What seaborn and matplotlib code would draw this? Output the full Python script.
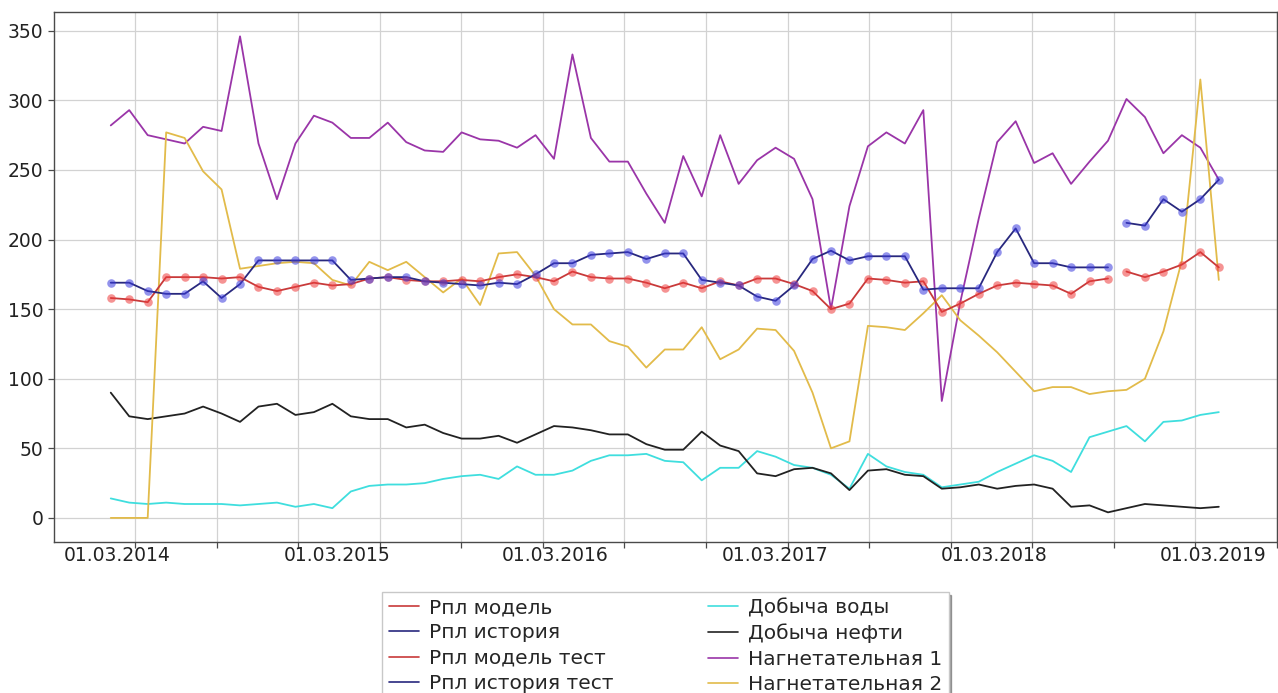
import numpy as np
import matplotlib
matplotlib.use("Agg")
import matplotlib.pyplot as plt
import seaborn as sns

# ---- data: monthly observations, month index 0..60 ----
month = list(range(61))

p_model = [158, 157, 155, 173, 173, 173, 172, 173, 166, 163, 166, 169, 167, 168, 172,
           173, 171, 170, 170, 171, 170, 173, 175, 173, 170, 177, 173, 172, 172, 169,
           165, 169, 165, 170, 167, 172, 172, 168, 163, 150, 154, 172, 171, 169, 170,
           148, 154, 161, 167, 169, 168, 167, 161, 170, 172]
p_hist = [169, 169, 163, 161, 161, 170, 158, 168, 185, 185, 185, 185, 185, 171, 172,
          173, 173, 170, 169, 168, 167, 169, 168, 175, 183, 183, 189, 190, 191, 186,
          190, 190, 171, 169, 167, 159, 156, 167, 186, 192, 185, 188, 188, 188, 164,
          165, 165, 165, 191, 208, 183, 183, 180, 180, 180]
p_model_test = [177, 173, 177, 182, 191, 180]
p_hist_test = [212, 210, 229, 220, 229, 243]

water = [14, 11, 10, 11, 10, 10, 10, 9, 10, 11, 8, 10, 7, 19, 23, 24, 24, 25, 28, 30,
         31, 28, 37, 31, 31, 34, 41, 45, 45, 46, 41, 40, 27, 36, 36, 48, 44, 38, 36, 31,
         21, 46, 37, 33, 31, 22, 24, 26, 33, 39, 45, 41, 33, 58, 62, 66, 55, 69, 70, 74, 76]
oil = [90, 73, 71, 73, 75, 80, 75, 69, 80, 82, 74, 76, 82, 73, 71, 71, 65, 67, 61, 57,
       57, 59, 54, 60, 66, 65, 63, 60, 60, 53, 49, 49, 62, 52, 48, 32, 30, 35, 36, 32,
       20, 34, 35, 31, 30, 21, 22, 24, 21, 23, 24, 21, 8, 9, 4, 7, 10, 9, 8, 7, 8]
inj1 = [282, 293, 275, 272, 269, 281, 278, 346, 269, 229, 269, 289, 284, 273, 273, 284,
        270, 264, 263, 277, 272, 271, 266, 275, 258, 333, 273, 256, 256, 233, 212, 260,
        231, 275, 240, 257, 266, 258, 229, 150, 224, 267, 277, 269, 293, 84, 155, 215,
        270, 285, 255, 262, 240, 256, 271, 301, 288, 262, 275, 266, 243]
inj2 = [0, 0, 0, 277, 273, 249, 236, 179, 181, 183, 184, 183, 171, 167, 184, 178, 184,
        173, 162, 172, 153, 190, 191, 174, 150, 139, 139, 127, 123, 108, 121, 121, 137,
        114, 121, 136, 135, 120, 90, 50, 55, 138, 137, 135, 147, 160, 142, 131, 119, 105,
        91, 94, 94, 89, 91, 92, 100, 134, 185, 315, 171]

date_labels = ["01.03.2014", "01.03.2015", "01.03.2016",
               "01.03.2017", "01.03.2018", "01.03.2019"]

# ---- layout of the date axis (in month-index units) ----
label_pos = [0.34, 12.25, 24.06, 35.97, 47.82, 59.68]
grid_start, grid_step, n_grid = 1.316, 4.4167, 15

sns.set_theme(style="whitegrid")
plt.rcParams["font.family"] = ["DejaVu Sans"]

fig = plt.figure(figsize=(12.78, 6.93), dpi=100)
ax = fig.add_axes([0.0423, 0.2179, 0.9569, 0.7648])

n_hist = len(p_model)
x_hist = month[:n_hist]
x_test = month[n_hist:]

red_line, red_dot = "#c83a3a", "#ee3b3b"
blue_line, blue_dot = "#28287e", "#3b3bdd"
lw = 1.3

def pressure(x, y, lc, dc, label):
    sns.lineplot(x=x, y=y, ax=ax, color=lc, linewidth=lw, label=label, zorder=3)
    sns.scatterplot(x=x, y=y, ax=ax, color=dc, s=38, alpha=0.55,
                    edgecolor=None, linewidth=0, legend=False, zorder=4)

pressure(x_hist, p_model, red_line, red_dot, "Рпл модель")
pressure(x_hist, p_hist, blue_line, blue_dot, "Рпл история")
pressure(x_test, p_model_test, red_line, red_dot, "Рпл модель тест")
pressure(x_test, p_hist_test, blue_line, blue_dot, "Рпл история тест")

sns.lineplot(x=month, y=water, ax=ax, color="#3fdede", linewidth=lw, label="Добыча воды", zorder=2)
sns.lineplot(x=month, y=oil, ax=ax, color="#222222", linewidth=lw, label="Добыча нефти", zorder=2)
sns.lineplot(x=month, y=inj1, ax=ax, color="#9a35a8", linewidth=lw, label="Нагнетательная 1", zorder=2)
sns.lineplot(x=month, y=inj2, ax=ax, color="#e2bb4a", linewidth=lw, label="Нагнетательная 2", zorder=2)

ax.set_xlim(-3.07, 63.15)
ax.set_ylim(-17.3, 363.5)
ax.set_yticks(range(0, 351, 50))
ax.set_xlabel("")
ax.set_ylabel("")

ax.set_xticks([grid_start + grid_step * k for k in range(n_grid)])
ax.set_xticklabels([])
ax.set_xticks(label_pos, minor=True)
ax.set_xticklabels(date_labels, minor=True)

ax.grid(True, which="major", color="#d2d2d2", linewidth=0.9)
ax.grid(False, which="minor")
for sp in ax.spines.values():
    sp.set_color("#4a4a4a")
    sp.set_linewidth(1.0)
ax.tick_params(axis="both", which="major", bottom=True, left=True, length=4,
               width=0.9, color="#4a4a4a", labelsize=13.5, labelcolor="#222222")
ax.tick_params(axis="x", which="minor", bottom=True, length=0, pad=3,
               labelsize=13.5, labelcolor="#222222")

leg = ax.legend(loc="upper center", bbox_to_anchor=(0.5, -0.094), ncol=2,
                fontsize=14.5, frameon=True, fancybox=False, shadow=True,
                edgecolor="#c8c8c8", borderaxespad=0, labelspacing=0.32,
                handlelength=1.5, handletextpad=0.5, columnspacing=4.7,
                borderpad=0.3)
leg.get_frame().set_facecolor("white")
for h in leg.get_lines():
    h.set_linewidth(1.2)

fig.savefig("out.png", dpi=100)
